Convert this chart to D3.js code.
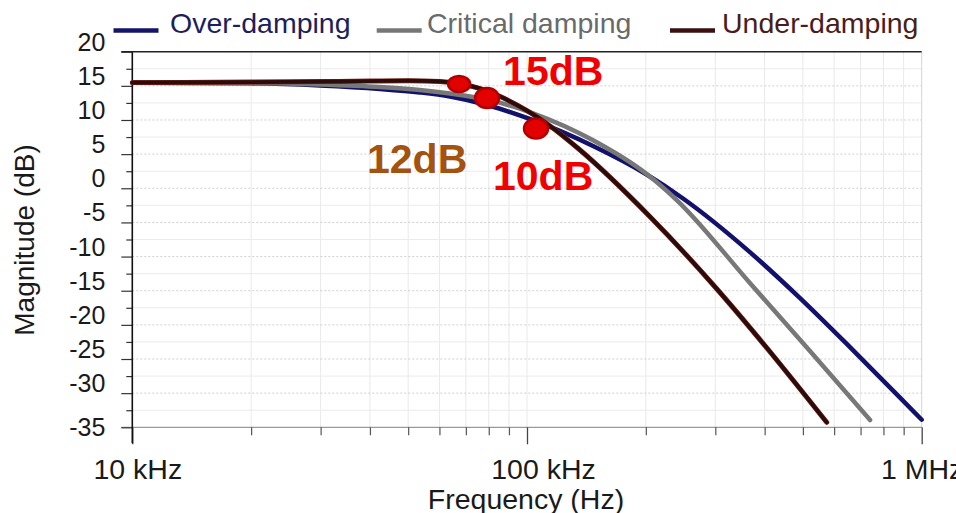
<!DOCTYPE html>
<html>
<head>
<meta charset="utf-8">
<script src="https://cdn.jsdelivr.net/npm/d3@7"></script>
<style>
  html, body { margin: 0; padding: 0; background: #ffffff; }
  svg { display: block; }
  text { font-family: "Liberation Sans", Arial, sans-serif; }
</style>
</head>
<body>
<svg id="chart" width="956" height="513"></svg>
<script>
// ---------------- data (frequency in kHz, magnitude in dB) ----------------
const seriesNames = ["Over-damping", "Critical damping", "Under-damping"];

const overFreq = [10, 19.9, 29.9, 42.4, 53.5, 63.8, 79.2, 103.6, 147, 201, 248.5, 367, 491.7, 658, 881, 1000];
const overDb   = [15.46, 15.37, 15.05, 14.54, 14.03, 13.44, 12.2, 9.97, 6.19, 2.02, -1.5, -9.35, -16.08, -23.26, -30.65, -33.89];

const critFreq = [10, 19.9, 29.9, 42.4, 53.5, 63.8, 79.2, 103.6, 147, 201, 239.5, 367, 521, 740];
const critDb   = [15.46, 15.41, 15.2, 14.83, 14.39, 13.88, 13.0, 10.98, 7.03, 2.09, -1.72, -13.87, -23.83, -33.93];

const underFreq = [10, 20, 30, 40, 50, 60, 67, 75, 85, 100, 114.4, 134.6, 204.9, 302.4, 396.2, 574.5];
const underDb   = [15.48, 15.55, 15.62, 15.7, 15.75, 15.65, 15.35, 14.7, 13.5, 11.36, 9.13, 5.86, -4.16, -14.71, -22.7, -34.27];

const markerFreq   = [67.3, 79.2, 105.4];
const markerDb     = [15.27, 13.22, 8.75];
const markerLabels = ["15dB", "12dB", "10dB"];

const yTickValues   = [20, 15, 10, 5, 0, -5, -10, -15, -20, -25, -30, -35];
const xDecadeTicks  = [10, 100, 1000];
const xDecadeLabels = ["10 kHz", "100 kHz", "1 MHz"];
const xMinorTicks   = [20, 30, 40, 50, 60, 70, 80, 90, 200, 300, 400, 500, 600, 700, 800, 900];

// ---------------- layout ----------------
const svg = d3.select("#chart");
const x = d3.scaleLog().domain([10, 1000]).range([132.3, 921.7]);
const y = d3.scaleLinear().domain([-35, 20]).range([427.3, 51.7]);
const [x0, x1] = x.range();
const yTop = y(20), yBot = y(-35);

// grid
const yGrid = d3.range(-35, 20.01, 2.5);
svg.append("g").selectAll("line").data(xMinorTicks.concat([100])).join("line")
  .attr("x1", d => x(d)).attr("x2", d => x(d))
  .attr("y1", yTop).attr("y2", yBot)
  .attr("stroke", "#e9e9e9").attr("stroke-width", 1);
svg.append("g").selectAll("line").data(yGrid.filter(v => v > -35 && v < 20)).join("line")
  .attr("x1", x0).attr("x2", x1)
  .attr("y1", d => y(d)).attr("y2", d => y(d))
  .attr("stroke", d => (d % 5 === 0) ? "#cfcfcf" : "#ebebeb")
  .attr("stroke-dasharray", d => (d % 5 === 0) ? "2,2" : null)
  .attr("stroke-width", 1);

// right frame (light)
svg.append("line").attr("x1", x1).attr("x2", x1).attr("y1", yTop).attr("y2", yBot)
  .attr("stroke", "#d6d6d6").attr("stroke-width", 1);

// bottom axis
const xAxisMinor = d3.axisBottom(x).tickValues(xMinorTicks).tickSize(8).tickFormat("").tickSizeOuter(0);
const gxm = svg.append("g").attr("transform", `translate(0,${yBot})`).call(xAxisMinor);
gxm.select(".domain").attr("stroke", "#9a9a9a").attr("stroke-width", 1.3)
  .attr("d", `M${x0 - 11},0H${x1}`);
gxm.selectAll(".tick line").attr("stroke", "#555").attr("stroke-width", 1.2);

const xAxisMajor = d3.axisBottom(x).tickValues(xDecadeTicks).tickSize(17).tickPadding(14)
  .tickFormat((d, i) => xDecadeLabels[i]).tickSizeOuter(0);
const gxM = svg.append("g").attr("transform", `translate(0,${yBot})`).call(xAxisMajor);
gxM.select(".domain").remove();
gxM.selectAll(".tick line").attr("stroke", "#444").attr("stroke-width", 1.3);
const xLabelDx = [5, 16, 0];
gxM.selectAll(".tick text")
  .attr("font-family", "'Liberation Sans', Arial, sans-serif")
  .attr("font-size", 28.5).attr("fill", "#1a1a1a")
  .attr("dy", "0.71em")
  .attr("dx", (d, i) => xLabelDx[i]);

// left axis
const yAxisMinor = d3.axisLeft(y).tickValues(d3.range(-32.5, 20, 5)).tickSize(6).tickFormat("").tickSizeOuter(0);
const gym = svg.append("g").attr("transform", `translate(${x0},0)`).call(yAxisMinor);
gym.select(".domain").remove();
gym.selectAll(".tick line").attr("stroke", "#333").attr("stroke-width", 1.2);

const yAxisMajor = d3.axisLeft(y).tickValues(yTickValues).tickSize(11).tickPadding(16)
  .tickFormat(d => String(d)).tickSizeOuter(0);
const gyM = svg.append("g").attr("transform", `translate(${x0},0)`).call(yAxisMajor);
gyM.select(".domain").remove();
gyM.selectAll(".tick line").attr("stroke", "#333").attr("stroke-width", 1.2);
gyM.selectAll(".tick text")
  .attr("font-family", "'Liberation Sans', Arial, sans-serif")
  .attr("font-size", 25).attr("fill", "#1a1a1a")
  .attr("y", d => d === -35 ? 0 : -9.5);

// left axis line and top frame
svg.append("line").attr("x1", x0).attr("x2", x0).attr("y1", yTop).attr("y2", yBot + 16)
  .attr("stroke", "#111").attr("stroke-width", 1.6);
svg.append("line").attr("x1", x0 - 11).attr("x2", x1).attr("y1", yTop).attr("y2", yTop)
  .attr("stroke", "#222").attr("stroke-width", 1.6);

// axis titles
svg.append("text").attr("x", (x0 + x1) / 2 - 1).attr("y", 509)
  .attr("text-anchor", "middle").attr("font-size", 28.5).attr("fill", "#1a1a1a")
  .text("Frequency (Hz)");
svg.append("text").attr("transform", "translate(34,240) rotate(-90)")
  .attr("text-anchor", "middle").attr("font-size", 28).attr("fill", "#1a1a1a")
  .text("Magnitude (dB)");

// ---------------- curves ----------------
const line = d3.line().x(d => x(d[0])).y(d => y(d[1])).curve(d3.curveMonotoneX);
const zip = (a, b) => a.map((v, i) => [v, b[i]]);

svg.append("path").datum(zip(overFreq, overDb)).attr("d", line)
  .attr("fill", "none").attr("stroke", "#12126c").attr("stroke-width", 4.5).attr("stroke-linecap", "round");
svg.append("path").datum(zip(critFreq, critDb)).attr("d", line)
  .attr("fill", "none").attr("stroke", "#787878").attr("stroke-width", 4.5).attr("stroke-linecap", "round");
svg.append("path").datum(zip(underFreq, underDb)).attr("d", line)
  .attr("fill", "none").attr("stroke", "#7a2a20").attr("stroke-width", 5).attr("stroke-linecap", "round");
svg.append("path").datum(zip(underFreq, underDb)).attr("d", line)
  .attr("fill", "none").attr("stroke", "#2c0b0b").attr("stroke-width", 3.8).attr("stroke-linecap", "round");

// ---------------- markers & annotations ----------------
const markers = markerFreq.map((f, i) => ({ f, db: markerDb[i], label: markerLabels[i] }));
const markerRx = [11, 12, 12], markerRy = [8, 10, 10];
svg.append("g").selectAll("ellipse").data(markers).join("ellipse")
  .attr("cx", d => x(d.f)).attr("cy", d => y(d.db))
  .attr("rx", (d, i) => markerRx[i]).attr("ry", (d, i) => markerRy[i])
  .attr("fill", "#e30000").attr("stroke", "#b00000").attr("stroke-width", 2.5);

const labelDx = [44, -120, -43], labelDy = [1, 75, 61.5];
const labelColor = ["#f00000", "#a3520f", "#f00000"];
svg.append("g").selectAll("text").data(markers).join("text")
  .attr("x", (d, i) => x(d.f) + labelDx[i]).attr("y", (d, i) => y(d.db) + labelDy[i])
  .attr("font-family", "Lato, 'Open Sans', sans-serif").attr("font-weight", 700)
  .attr("font-size", 41).attr("fill", (d, i) => labelColor[i])
  .text(d => d.label);

// ---------------- legend ----------------
const legendLineX = [113.5, 376.7, 670];
const legendTextX = [170, 427, 722];
const legendLineColor = ["#14146a", "#777777", "#3a1010"];
const legendTextColor = ["#1e1e5c", "#6a6a6a", "#4a1c1c"];
const lg = svg.append("g");
seriesNames.forEach((name, i) => {
  lg.append("line").attr("x1", legendLineX[i]).attr("x2", legendLineX[i] + 45)
    .attr("y1", 30.5).attr("y2", 30.5)
    .attr("stroke", legendLineColor[i]).attr("stroke-width", 4.5);
  lg.append("text").attr("x", legendTextX[i]).attr("y", 33.3)
    .attr("font-size", 28.5).attr("fill", legendTextColor[i]).text(name);
});
</script>
</body>
</html>
